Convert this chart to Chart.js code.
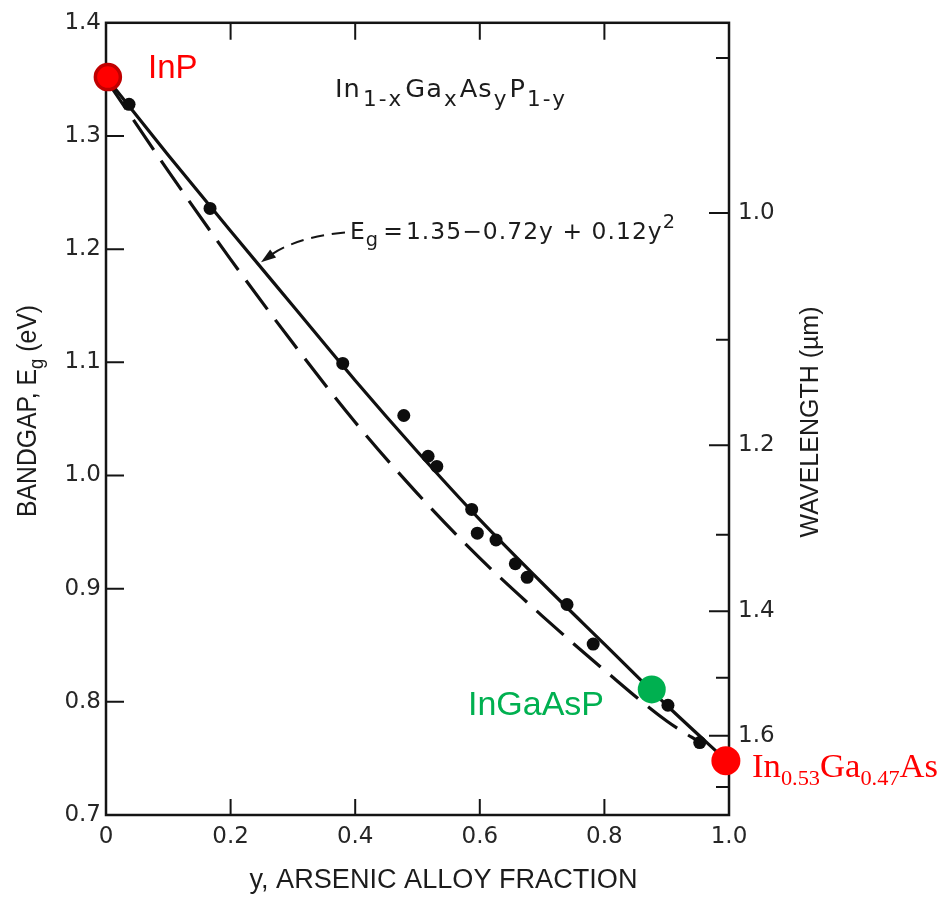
<!DOCTYPE html>
<html><head><meta charset="utf-8">
<script src="https://cdn.jsdelivr.net/npm/chart.js@4.4.1/dist/chart.umd.min.js"></script>
<style>html,body{margin:0;padding:0;background:#fff;}canvas{display:block;}</style>
</head><body>
<canvas id="c" width="942" height="897"></canvas>
<script>
// ---------- data ----------
const fractionTicks = [0, 0.2, 0.4, 0.6, 0.8, 1.0];
const fractionTickLabels = ['0', '0.2', '0.4', '0.6', '0.8', '1.0'];
const bandgapTicks = [0.7, 0.8, 0.9, 1.0, 1.1, 1.2, 1.3, 1.4];
const bandgapTickLabels = ['0.7', '0.8', '0.9', '1.0', '1.1', '1.2', '1.3', '1.4'];
const wavelengthTicks = [0.9, 1.0, 1.1, 1.2, 1.3, 1.4, 1.5, 1.6, 1.7];
const wavelengthTickLabels = ['', '1.0', '', '1.2', '', '1.4', '', '1.6', ''];
const HC = 1.232; // eV·µm, energy = HC / wavelength (as drawn on the right axis)

const fitY  = [0, 0.1, 0.2, 0.3, 0.4, 0.5, 0.6, 0.7, 0.8, 0.9, 1.0];
const fitEg = [1.352, 1.283, 1.216, 1.150, 1.084, 1.021, 0.961, 0.905, 0.851, 0.797, 0.746];

const dashY  = [0, 0.1, 0.2, 0.3, 0.4, 0.5, 0.6, 0.7, 0.8, 0.9, 0.96];
const dashEg = [1.350, 1.269, 1.191, 1.117, 1.047, 0.984, 0.927, 0.876, 0.828, 0.783, 0.762];

const measY  = [0.037, 0.167, 0.380, 0.478, 0.517, 0.531, 0.587, 0.596, 0.626, 0.657, 0.676, 0.740, 0.782, 0.902, 0.953];
const measEg = [1.328, 1.236, 1.099, 1.053, 1.017, 1.008, 0.970, 0.949, 0.943, 0.922, 0.910, 0.886, 0.851, 0.797, 0.764];

const markerNames = ['InP', 'InGaAsP', 'In0.53Ga0.47As'];
const markerY  = [0.003, 0.876, 0.995];
const markerEg = [1.352, 0.811, 0.748];

// ---------- helpers ----------
const pts = (xs, ys) => xs.map((x, i) => ({ x: x, y: ys[i] }));
const SANS = '"Liberation Sans", Arial, sans-serif';
const DJ = '"DejaVu Sans", sans-serif';
const SERIF = '"Liberation Serif", "Times New Roman", serif';
const INK = '#141414';

function richWidth(ctx, pieces) {
  let w = 0;
  for (const p of pieces) {
    ctx.font = p.f; ctx.letterSpacing = (p.ls || 0) + 'px';
    w += ctx.measureText(p.t).width + (p.gap || 0);
  }
  return w;
}
function drawRich(ctx, pieces, x, y, targetW, center) {
  ctx.save();
  const w = richWidth(ctx, pieces);
  ctx.translate(x, y);
  const sx = targetW ? targetW / w : 1;
  ctx.scale(sx, 1);
  let cx = center ? -w / 2 : 0;
  for (const p of pieces) {
    ctx.font = p.f; ctx.letterSpacing = (p.ls || 0) + 'px';
    if (p.c) ctx.fillStyle = p.c;
    ctx.fillText(p.t, cx, p.dy || 0);
    cx += ctx.measureText(p.t).width + (p.gap || 0);
  }
  ctx.restore();
}

const decor = {
  id: 'decor',
  beforeDatasetsDraw(chart) {
    const { ctx, chartArea: a, scales } = chart;
    const sx = scales.x, sy = scales.y, sr = scales.y2;
    ctx.save();
    ctx.strokeStyle = INK; ctx.lineWidth = 2.5; ctx.setLineDash([]);
    ctx.strokeRect(a.left, a.top, a.right - a.left, a.bottom - a.top);
    ctx.lineWidth = 2;
    ctx.beginPath();
    fractionTicks.forEach(v => {
      if (v <= 0 || v >= 1) return;
      const px = sx.getPixelForValue(v);
      ctx.moveTo(px, a.bottom); ctx.lineTo(px, a.bottom - 16);
      ctx.moveTo(px, a.top); ctx.lineTo(px, a.top + 17);
    });
    bandgapTicks.forEach(v => {
      if (v <= 0.7 || v >= 1.4) return;
      const py = sy.getPixelForValue(v);
      ctx.moveTo(a.left, py); ctx.lineTo(a.left + 18, py);
    });
    wavelengthTicks.forEach((l, i) => {
      const py = sr.getPixelForValue(HC / l);
      const len = wavelengthTickLabels[i] ? 20 : 13;
      ctx.moveTo(a.right, py); ctx.lineTo(a.right - len, py);
    });
    ctx.stroke();
    ctx.restore();
  },
  afterDraw(chart) {
    const { ctx, chartArea: a, scales } = chart;
    const X = v => scales.x.getPixelForValue(v);
    const Y = v => scales.y.getPixelForValue(v);
    ctx.save();
    ctx.textAlign = 'left'; ctx.textBaseline = 'alphabetic';

    // dashed arrow pointing at the fitted curve
    const p0 = [X(0.3836), Y(1.2148)], pc = [X(0.3034), Y(1.2104)], p1 = [X(0.2488), Y(1.1884)];
    ctx.strokeStyle = INK; ctx.lineWidth = 2; ctx.setLineDash([13, 8]);
    ctx.beginPath(); ctx.moveTo(p0[0], p0[1]); ctx.quadraticCurveTo(pc[0], pc[1], p1[0] + 8, p1[1] - 6); ctx.stroke();
    ctx.setLineDash([]);
    const ang = Math.atan2(p1[1] - pc[1], p1[0] - pc[0]);
    ctx.fillStyle = INK;
    ctx.beginPath();
    ctx.moveTo(p1[0], p1[1]);
    ctx.lineTo(p1[0] - 15 * Math.cos(ang) + 5 * Math.sin(ang), p1[1] - 15 * Math.sin(ang) - 5 * Math.cos(ang));
    ctx.lineTo(p1[0] - 15 * Math.cos(ang) - 5 * Math.sin(ang), p1[1] - 15 * Math.sin(ang) + 5 * Math.cos(ang));
    ctx.closePath(); ctx.fill();

    // compound formula
    ctx.fillStyle = '#1c1c1c';
    const M = '25px ' + DJ, S = '21px ' + DJ;
    drawRich(ctx, [
      { t: 'In', f: M, ls: 1, gap: 2 }, { t: '1-x', f: S, dy: 9, ls: 2, gap: 2 },
      { t: 'Ga', f: M, ls: 1, gap: 1 }, { t: 'x', f: S, dy: 9, gap: 3 },
      { t: 'As', f: M, ls: 1, gap: 1 }, { t: 'y', f: S, dy: 9, gap: 3 },
      { t: 'P', f: M, gap: 2 }, { t: '1-y', f: S, dy: 9, ls: 2 }
    ], X(0.3676), Y(1.3347), 232);

    // fit equation
    const EM = '23px ' + DJ, ES = '19px ' + DJ;
    drawRich(ctx, [
      { t: 'E', f: EM, gap: 1 }, { t: 'g', f: ES, dy: 7, gap: 5 },
      { t: '=', f: EM, gap: 3 },
      { t: '1.35−0.72y + 0.12y', f: EM, ls: 1 },
      { t: '2', f: ES, dy: -11 }
    ], X(0.3917), Y(1.2086), 325);

    // coloured labels
    ctx.fillStyle = '#ff0000';
    ctx.font = '33px ' + SANS; ctx.letterSpacing = '0px';
    ctx.fillText(markerNames[0], X(0.0674), Y(1.3515));
    ctx.fillStyle = '#00b050';
    ctx.font = '34px ' + SANS;
    ctx.fillText(markerNames[1], X(0.581), Y(0.788));
    ctx.fillStyle = '#ff0000';
    drawRich(ctx, [
      { t: 'In', f: '34px ' + SERIF }, { t: '0.53', f: '22px ' + SERIF, dy: 8 },
      { t: 'Ga', f: '34px ' + SERIF }, { t: '0.47', f: '22px ' + SERIF, dy: 8 },
      { t: 'As', f: '34px ' + SERIF }
    ], X(1.037), Y(0.7333), 186);

    // axis titles
    ctx.fillStyle = '#1c1c1c';
    drawRich(ctx, [{ t: 'y, ARSENIC ALLOY FRACTION', f: '27px ' + SANS }], (a.left + a.right) / 2 + 26, 888, 388, true);
    ctx.save();
    ctx.translate(36, 411); ctx.rotate(-Math.PI / 2);
    drawRich(ctx, [
      { t: 'BANDGAP, E', f: '28px ' + SANS }, { t: 'g', f: '21px ' + SANS, dy: 7 },
      { t: ' (eV)', f: '28px ' + SANS }
    ], 0, 0, 212, true);
    ctx.restore();
    ctx.save();
    ctx.translate(818, 422); ctx.rotate(-Math.PI / 2);
    drawRich(ctx, [{ t: 'WAVELENGTH (µm)', f: '26px ' + SANS }], 0, 0, 231, true);
    ctx.restore();
    ctx.restore();
  }
};

const tickFont = { family: '"DejaVu Sans", sans-serif', size: 23 };
const TICKC = '#262626';

new Chart(document.getElementById('c'), {
  type: 'scatter',
  data: {
    datasets: [
      { label: markerNames[0], data: pts([markerY[0]], [markerEg[0]]), pointRadius: 12.5, pointBackgroundColor: '#ff0000', pointBorderColor: '#c00000', pointBorderWidth: 3.5, clip: false },
      { label: markerNames[1], data: pts([markerY[1]], [markerEg[1]]), pointRadius: 14, pointBackgroundColor: '#00b050', pointBorderWidth: 0, clip: false },
      { label: markerNames[2], data: pts([markerY[2]], [markerEg[2]]), pointRadius: 14.5, pointBackgroundColor: '#ff0000', pointBorderWidth: 0, clip: false },
      { label: 'measured', data: pts(measY, measEg), pointRadius: 6.5, pointBackgroundColor: '#0d0d0d', pointBorderWidth: 0, clip: false },
      { label: 'fit', data: pts(fitY, fitEg), showLine: true, pointRadius: 0, borderColor: '#101010', borderWidth: 3.2, cubicInterpolationMode: 'monotone', clip: false },
      { label: 'dashed', data: pts(dashY, dashEg), showLine: true, pointRadius: 0, borderColor: '#101010', borderWidth: 3.2, borderDash: [36, 13], cubicInterpolationMode: 'monotone', clip: false }
    ]
  },
  options: {
    responsive: false, animation: false, devicePixelRatio: 1,
    layout: { padding: { top: 21, left: 0, right: 0, bottom: 0 } },
    plugins: { legend: { display: false }, tooltip: { enabled: false } },
    scales: {
      x: {
        type: 'linear', position: 'bottom', min: 0, max: 1,
        afterBuildTicks: s => { s.ticks = fractionTicks.map(v => ({ value: v })); },
        ticks: { callback: (v, i) => fractionTickLabels[i], font: tickFont, color: TICKC, padding: 8, maxRotation: 0, autoSkip: false },
        grid: { display: false, drawTicks: false }, border: { display: false },
        afterFit: s => { s.height = 82; }
      },
      y: {
        type: 'linear', position: 'left', min: 0.7, max: 1.4,
        afterBuildTicks: s => { s.ticks = bandgapTicks.map(v => ({ value: v })); },
        ticks: { callback: (v, i) => bandgapTickLabels[i], font: tickFont, color: TICKC, padding: 5, autoSkip: false },
        grid: { display: false, drawTicks: false }, border: { display: false },
        afterFit: s => { s.width = 106; }
      },
      y2: {
        type: 'linear', position: 'right', min: 0.7, max: 1.4,
        afterBuildTicks: s => { s.ticks = wavelengthTicks.map(l => ({ value: HC / l })); },
        ticks: { callback: (v, i) => wavelengthTickLabels[i], font: tickFont, color: TICKC, padding: 9, autoSkip: false },
        grid: { display: false, drawTicks: false }, border: { display: false },
        afterFit: s => { s.width = 213; }
      }
    }
  },
  plugins: [decor]
});
</script>
</body></html>
